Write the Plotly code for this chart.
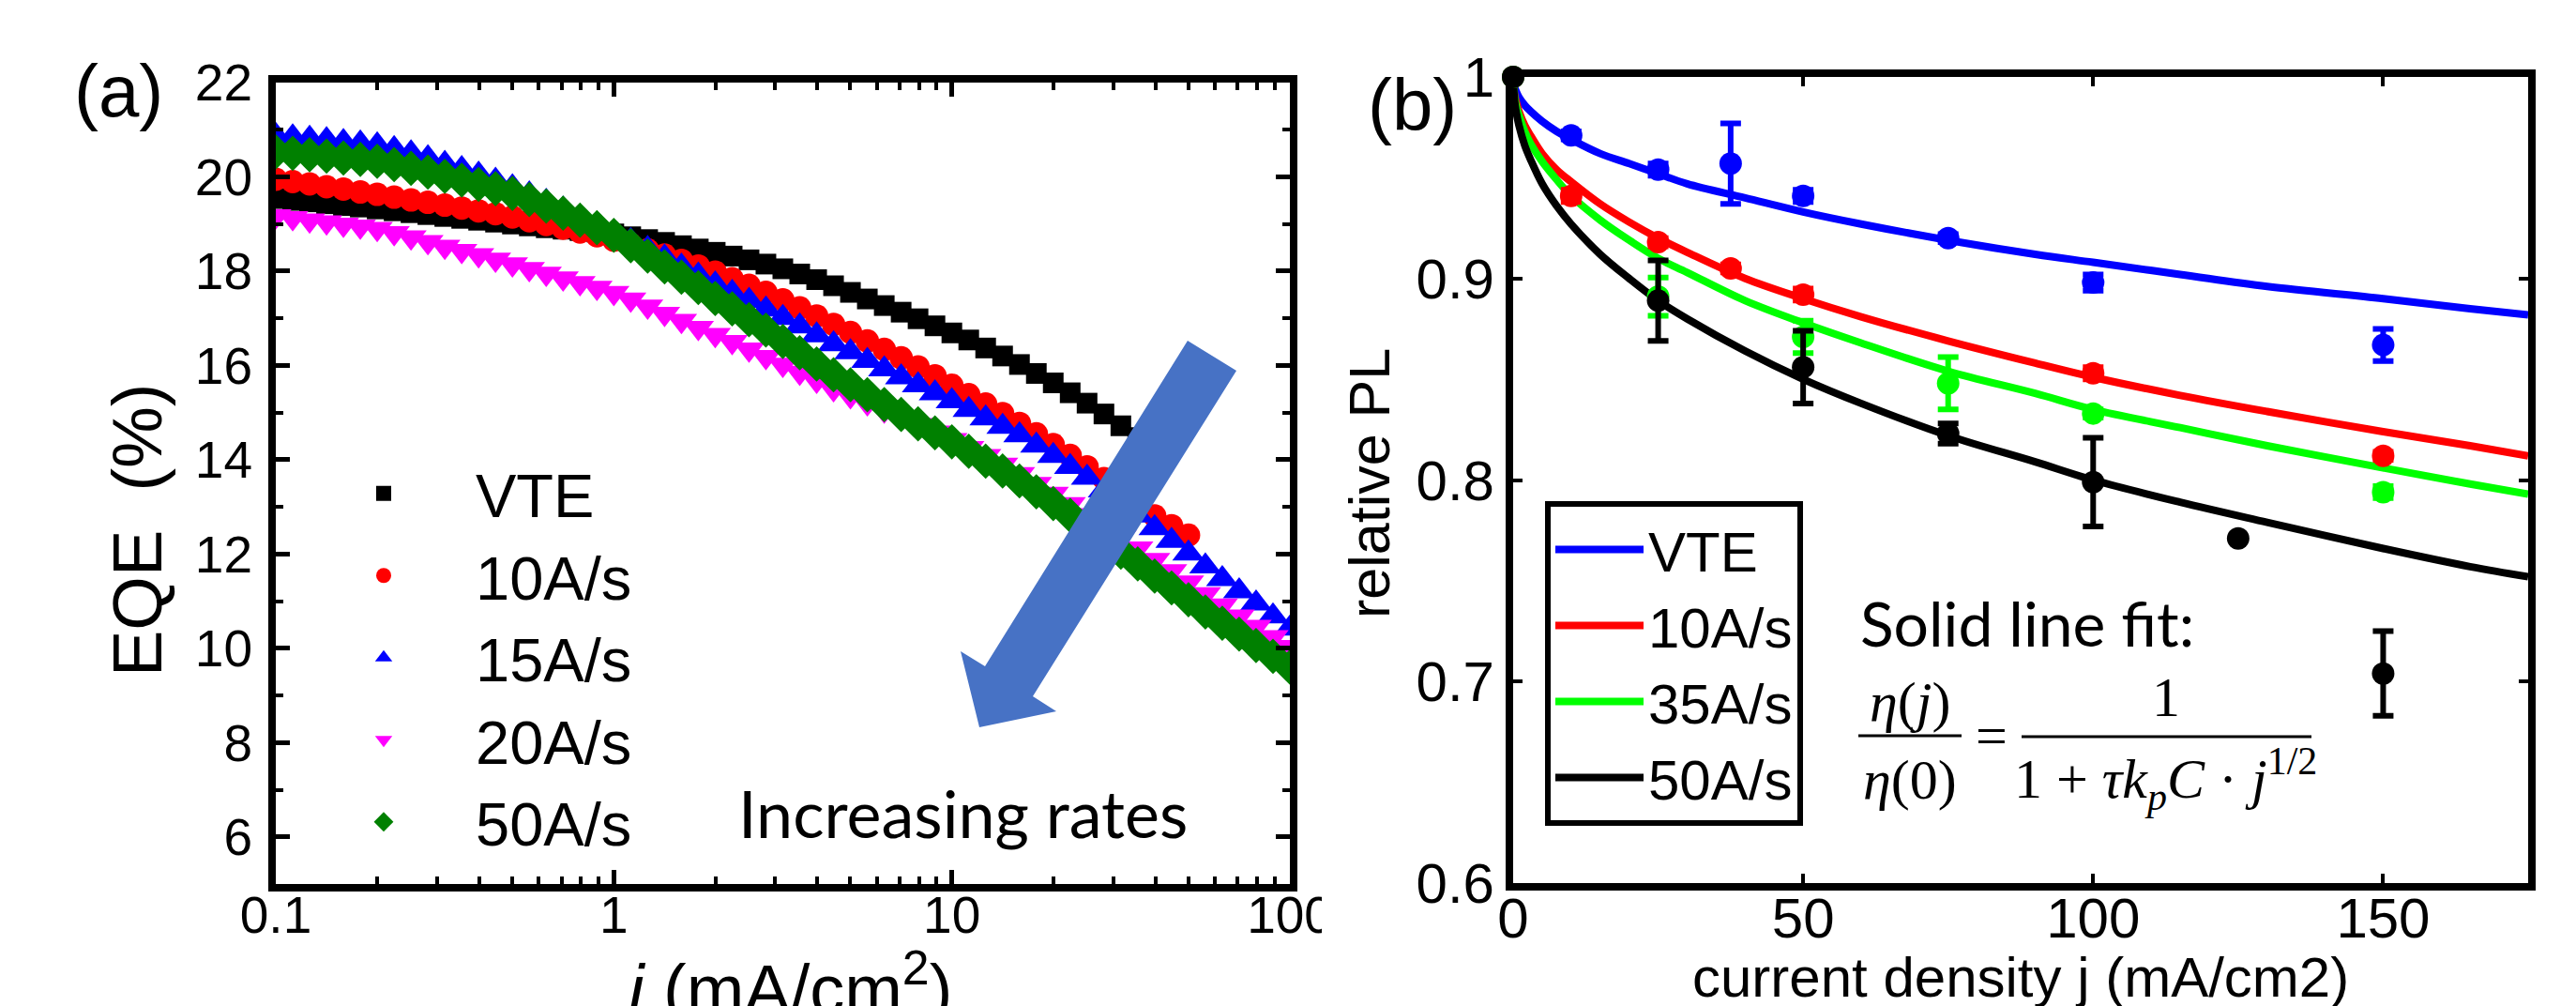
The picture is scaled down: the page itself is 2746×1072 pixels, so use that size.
import plotly.graph_objects as go

W, H = 2746, 1072

# ---------------- panel (a): EQE vs current density ----------------
j_a = [0.1, 0.1122, 0.1259, 0.1413, 0.1585, 0.1778, 0.1995, 0.2239, 0.2512, 0.2818,
       0.3162, 0.3548, 0.3981, 0.4467, 0.5012, 0.5623, 0.6310, 0.7079, 0.7943, 0.8913,
       1.0, 1.122, 1.259, 1.413, 1.585, 1.778, 1.995, 2.239, 2.512, 2.818,
       3.162, 3.548, 3.981, 4.467, 5.012, 5.623, 6.310, 7.079, 7.943, 8.913,
       10.0, 11.22, 12.59, 14.13, 15.85, 17.78, 19.95, 22.39, 25.12, 28.18,
       31.62, 35.48, 39.81, 44.67, 50.12, 56.23, 63.10, 70.79, 79.43, 89.13, 100.0]

eqe_vte = [19.54, 19.50, 19.47, 19.43, 19.39, 19.36, 19.32, 19.28, 19.24, 19.20,
           19.16, 19.12, 19.08, 19.04, 19.00, 18.96, 18.92, 18.89, 18.86, 18.83,
           18.79, 18.73, 18.67, 18.61, 18.54, 18.47, 18.40, 18.32, 18.24, 18.15,
           18.05, 17.94, 17.82, 17.69, 17.55, 17.41, 17.27, 17.13, 16.99, 16.84,
           16.69, 16.54, 16.37, 16.20, 16.02, 15.83, 15.63, 15.42, 15.20, 14.97,
           14.72, 14.47, 14.21]
eqe_10 = [19.95, 19.90, 19.85, 19.79, 19.74, 19.68, 19.63, 19.57, 19.51, 19.46,
          19.40, 19.34, 19.28, 19.22, 19.15, 19.07, 18.99, 18.91, 18.83, 18.75,
          18.66, 18.56, 18.45, 18.34, 18.23, 18.11, 17.98, 17.84, 17.70, 17.55,
          17.39, 17.22, 17.05, 16.87, 16.70, 16.52, 16.34, 16.16, 15.97, 15.78,
          15.58, 15.38, 15.18, 14.98, 14.77, 14.55, 14.32, 14.09, 13.85, 13.60,
          13.35, 13.08, 12.81, 12.60, 12.40]
eqe_15 = [20.87, 20.84, 20.81, 20.78, 20.74, 20.71, 20.67, 20.59, 20.50, 20.40,
          20.28, 20.17, 20.05, 19.92, 19.78, 19.63, 19.47, 19.31, 19.14, 18.97,
          18.80, 18.64, 18.47, 18.29, 18.10, 17.91, 17.72, 17.54, 17.37, 17.19,
          17.01, 16.83, 16.64, 16.45, 16.28, 16.10, 15.92, 15.75, 15.58, 15.41,
          15.24, 15.06, 14.88, 14.70, 14.52, 14.30, 14.08, 13.85, 13.62, 13.35,
          13.09, 12.82, 12.55, 12.28, 12.01, 11.74, 11.47, 11.21, 10.95, 10.68, 10.42]
eqe_20 = [19.17, 19.13, 19.08, 19.04, 18.99, 18.95, 18.90, 18.81, 18.72, 18.62,
          18.52, 18.43, 18.34, 18.25, 18.15, 18.05, 17.95, 17.85, 17.75, 17.65,
          17.54, 17.40, 17.25, 17.10, 16.95, 16.80, 16.65, 16.50, 16.34, 16.18,
          16.02, 15.85, 15.68, 15.50, 15.35, 15.20, 15.05, 14.90, 14.74, 14.58,
          14.42, 14.25, 14.08, 13.90, 13.70, 13.49, 13.28, 13.06, 12.83, 12.60,
          12.36, 12.12, 11.88, 11.64, 11.40, 11.15, 10.91, 10.68, 10.46, 10.24, 10.03]
eqe_50 = [20.53, 20.50, 20.47, 20.44, 20.40, 20.37, 20.33, 20.26, 20.18, 20.10,
          20.01, 19.93, 19.84, 19.75, 19.65, 19.52, 19.38, 19.23, 19.08, 18.92,
          18.76, 18.54, 18.32, 18.09, 17.87, 17.65, 17.42, 17.20, 16.97, 16.75,
          16.51, 16.27, 16.03, 15.80, 15.59, 15.38, 15.17, 14.96, 14.76, 14.57,
          14.38, 14.18, 13.97, 13.76, 13.55, 13.32, 13.07, 12.82, 12.56, 12.30,
          12.04, 11.79, 11.53, 11.28, 11.03, 10.77, 10.53, 10.30, 10.06, 9.83, 9.60]

names_a = ["VTE", "10A/s", "15A/s", "20A/s", "50A/s"]
colors_a = ["#000000", "#FF0000", "#0000FF", "#FF00FF", "#008000"]
symbols_a = ["square", "circle", "triangle-up", "triangle-down", "diamond"]
sizes_a = [22, 25, 30, 29, 29]
series_a = [eqe_vte, eqe_10, eqe_15, eqe_20, eqe_50]

# ---------------- panel (b): relative PL vs current density ----------------
pl_names = ["VTE", "10A/s", "35A/s", "50A/s"]
pl_colors = ["#0000FF", "#FF0000", "#00FF00", "#000000"]

j_vte = [0, 10, 25, 37.5, 50, 75, 100, 150]
pl_vte = [1.0, 0.971, 0.954, 0.957, 0.941, 0.920, 0.898, 0.867]
err_vte = [0, 0.002, 0.003, 0.020, 0.003, 0.002, 0.004, 0.008]

j_10 = [0, 10, 25, 37.5, 50, 100, 150]
pl_10 = [1.0, 0.941, 0.918, 0.905, 0.892, 0.853, 0.812]
err_10 = [0, 0.003, 0.002, 0.002, 0.003, 0.003, 0.002]

j_35 = [0, 25, 50, 75, 100, 150]
pl_35 = [1.0, 0.891, 0.871, 0.848, 0.833, 0.794]
err_35 = [0, 0.0095, 0.008, 0.013, 0.002, 0.003]

j_50 = [0, 25, 50, 75, 100, 125, 150]
pl_50 = [1.0, 0.889, 0.856, 0.823, 0.799, 0.771, 0.704]
err_50 = [0, 0.020, 0.018, 0.005, 0.022, 0, 0.021]

# fitted curves eta(j)/eta(0) = 1/(1 + tau*kp*C*j^0.5)
j_fit = [0, 0.25, 0.5, 1, 2, 3, 5, 7.5, 10, 15, 20, 25, 30, 40, 50, 60, 75, 90,
         100, 115, 130, 150, 165, 175]
fit_vte = [1.0, 0.995, 0.993, 0.990, 0.986, 0.983, 0.978, 0.973, 0.969, 0.962, 0.957, 0.952,
           0.947, 0.940, 0.933, 0.927, 0.919, 0.912, 0.908, 0.902, 0.896, 0.890, 0.885, 0.882]
fit_10 = [1.0, 0.991, 0.988, 0.983, 0.976, 0.971, 0.962, 0.954, 0.948, 0.937, 0.928, 0.920,
          0.913, 0.900, 0.890, 0.881, 0.869, 0.858, 0.851, 0.842, 0.834, 0.824, 0.817, 0.812]
fit_35 = [1.0, 0.990, 0.986, 0.981, 0.973, 0.967, 0.958, 0.949, 0.941, 0.929, 0.919, 0.910,
          0.903, 0.889, 0.878, 0.868, 0.854, 0.843, 0.835, 0.826, 0.817, 0.806, 0.798, 0.793]
fit_50 = [1.0, 0.988, 0.983, 0.976, 0.966, 0.959, 0.947, 0.936, 0.927, 0.912, 0.900, 0.889,
          0.880, 0.864, 0.850, 0.838, 0.822, 0.809, 0.800, 0.789, 0.779, 0.766, 0.757, 0.752]

pl_data = [(j_vte, pl_vte, err_vte), (j_10, pl_10, err_10), (j_35, pl_35, err_35), (j_50, pl_50, err_50)]
pl_fits = [fit_vte, fit_10, fit_35, fit_50]


def PX(x):
    return x / W


def PY(y):
    return 1 - y / H


SANS = "Liberation Sans, Arial, sans-serif"
SERIF = "Liberation Serif, Times New Roman, serif"
HUM = "Lato, Open Sans, sans-serif"

fig = go.Figure()

for name, col, sym, sz, ys in zip(names_a, colors_a, symbols_a, sizes_a, series_a):
    fig.add_trace(go.Scatter(
        x=j_a[:len(ys)], y=ys, mode="markers", name=name,
        marker=dict(symbol=sym, size=sz, color=col, line=dict(width=0)),
        xaxis="x", yaxis="y", legend="legend", showlegend=True))

for name, col, fy in zip(pl_names, pl_colors, pl_fits):
    fig.add_trace(go.Scatter(
        x=j_fit, y=fy, mode="lines", name=name,
        line=dict(color=col, width=8, shape="spline"),
        xaxis="x2", yaxis="y2", legend="legend2", showlegend=True, cliponaxis=True))

for name, col, (jx, py, pe) in zip(pl_names, pl_colors, pl_data):
    fig.add_trace(go.Scatter(
        x=jx, y=py, mode="markers", name=name + " data",
        marker=dict(symbol="circle", size=24, color=col, line=dict(width=0)),
        error_y=dict(type="data", array=pe, visible=True, color=col, thickness=6, width=11),
        xaxis="x2", yaxis="y2", showlegend=False, cliponaxis=False))

tickfont_a = dict(family=SANS, size=55, color="black")
tickfont_b = dict(family=SANS, size=60, color="black")

fig.update_layout(
    width=W, height=H, template="none",
    paper_bgcolor="white", plot_bgcolor="white",
    margin=dict(l=0, r=0, t=0, b=0),
    xaxis=dict(type="log", range=[-1, 2], domain=[PX(286), PX(1367)], anchor="y",
               dtick=1, showline=True, linewidth=8, linecolor="black", mirror="ticks",
               ticks="inside", ticklen=15, tickwidth=5, tickcolor="black",
               minor=dict(ticks="inside", ticklen=8, tickwidth=4, tickcolor="black", dtick="D1", showgrid=False),
               showgrid=False, zeroline=False, tickfont=tickfont_a, automargin=False,
               ticklabelstandoff=-22),
    yaxis=dict(range=[5, 22], domain=[PY(934), PY(80)], anchor="x",
               tick0=0, dtick=2, showline=True, linewidth=8, linecolor="black", mirror="ticks",
               ticks="inside", ticklen=15, tickwidth=5, tickcolor="black",
               minor=dict(ticks="inside", ticklen=8, tickwidth=4, tickcolor="black", dtick=1, showgrid=False),
               showgrid=False, zeroline=False, tickfont=tickfont_a, automargin=False,
               ticklabelstandoff=6),
    xaxis2=dict(range=[0, 175], domain=[PX(1605), PX(2687)], anchor="y2",
                tickvals=[0, 50, 100, 150], showline=True, linewidth=8, linecolor="black", mirror="ticks",
                ticks="inside", ticklen=10, tickwidth=4, tickcolor="black",
                showgrid=False, zeroline=False, tickfont=tickfont_b, automargin=False,
                ticklabelstandoff=-22),
    yaxis2=dict(range=[0.6, 1.0], domain=[PY(933), PY(74)], anchor="x2",
                tick0=0.6, dtick=0.1, showline=True, linewidth=8, linecolor="black", mirror="ticks",
                ticks="inside", ticklen=10, tickwidth=4, tickcolor="black",
                showgrid=False, zeroline=False, tickfont=tickfont_b, automargin=False),
    legend=dict(x=PX(303), y=PY(469), xanchor="left", yanchor="top",
                font=dict(family=SANS, size=65, color="black"),
                bgcolor="rgba(0,0,0,0)", borderwidth=0, itemwidth=186,
                tracegroupgap=0, itemsizing="trace"),
    legend2=dict(x=PX(1639), y=PY(526), xanchor="left", yanchor="top",
                 font=dict(family=SANS, size=60, color="black"),
                 bgcolor="white", bordercolor="black", borderwidth=6, itemwidth=94,
                 tracegroupgap=0),
    showlegend=True,
)

ann = []


def add_text(text, x, y, size, family=SANS, angle=0):
    ann.append(dict(text=text, x=PX(x), y=PY(y), xref="paper", yref="paper",
                    xanchor="center", yanchor="middle", showarrow=False, textangle=angle,
                    font=dict(family=family, size=size, color="black")))


add_text("(a)", 118, 89, 78)
add_text("(b)", 1498, 104, 78)
add_text("EQE\u00a0 (%)", 138, 557, 74, angle=-90)
add_text("<i>j</i> (mA/cm<sup>2</sup>)", 830, 1041, 74)
add_text("relative PL", 1452, 507, 61, angle=-90)
add_text("current density j (mA/cm2)", 2146, 1033, 60)
add_text("Increasing rates", 1018, 858, 70, family=HUM)
add_text("Solid line fit:", 2153, 655, 66, family=HUM)
add_text("<i>η</i>(<i>j</i>)", 2028, 740, 60, family=SERIF)
add_text("<i>η</i>(0)", 2028, 823, 60, family=SERIF)
add_text("=", 2115, 776, 60, family=SERIF)
add_text("1", 2301, 735, 60, family=SERIF)
add_text("1 + <i>τk</i><sub><i>p</i></sub><i>C</i> · <i>j</i><sup>1/2</sup>", 2300, 822, 60, family=SERIF)

fig.update_layout(annotations=ann)

# block arrow "increasing rates"
arrow_pts = [(1258, 355), (1310, 387), (1093, 734), (1118, 750), (1036, 767), (1016, 686), (1042, 702)]
path = "M " + " L ".join(f"{PX(x):.5f},{PY(y):.5f}" for x, y in arrow_pts) + " Z"
shapes = [
    dict(type="path", path=path, xref="paper", yref="paper", fillcolor="#4772C5",
         line=dict(width=0), layer="above"),
    dict(type="line", x0=PX(1973), x1=PX(2083), y0=PY(776), y1=PY(776), xref="paper", yref="paper",
         line=dict(color="black", width=3), layer="above"),
    dict(type="line", x0=PX(2147), x1=PX(2456), y0=PY(777), y1=PY(777), xref="paper", yref="paper",
         line=dict(color="black", width=3), layer="above"),
    # crop edge of panel (a): the "100" label is cut in the original
    dict(type="rect", x0=PX(1401), x1=PX(1445), y0=PY(1010), y1=PY(945), xref="paper", yref="paper",
         fillcolor="white", line=dict(width=0), layer="above"),
]
fig.update_layout(shapes=shapes)

fig.write_html("out.html")
